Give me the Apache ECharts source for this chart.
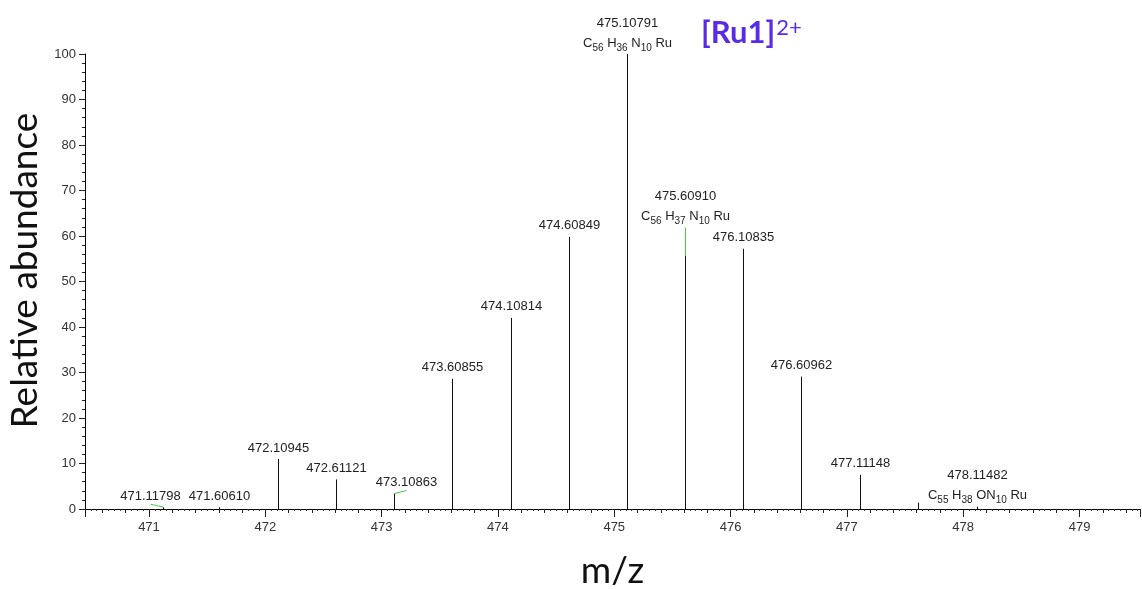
<!DOCTYPE html>
<html>
<head>
<meta charset="utf-8">
<script src="https://cdn.jsdelivr.net/npm/echarts@6/dist/echarts.min.js"></script>
<style>
  html, body { margin: 0; padding: 0; background: #fff; }
  #chart { width: 1142px; height: 589px; }
</style>
</head>
<body>
<div id="chart"></div>
<script>
// peak list
const peakMz = [471.11798, 471.60610, 472.10945, 472.61121, 473.10863, 473.60855, 474.10814,
  474.60849, 475.10791, 475.60910, 476.10835, 476.60962, 477.11148, 477.61, 478.11482]
const peakAbundance = [0.4, 0.4, 11.0, 6.5, 3.4, 28.6, 42.0, 59.8, 100, 55.7, 57.2, 29.1, 7.5, 1.4, 0.5]
const peakLabel = ['471.11798', '471.60610', '472.10945', '472.61121', '473.10863', '473.60855',
  '474.10814', '474.60849', '475.10791', '475.60910', '476.10835', '476.60962', '477.11148', '', '478.11482']
const peakFormula = ['', '', '', '', '', '', '', '',
  'C{s|56} H{s|36} N{s|10} Ru', 'C{s|56} H{s|37} N{s|10} Ru', '', '', '', '', 'C{s|55} H{s|38} ON{s|10} Ru']

// label nudges (px) for crowded labels, drawn with green leaders
const labelShift = { 0: [-13, 0], 4: [12, 0], 9: [0, -28] }

const chart = echarts.init(document.getElementById('chart'))

function renderPeak(params, api) {
  const i = params.dataIndex
  const base = api.coord([api.value(0), 0])
  const top = api.coord([api.value(0), api.value(1)])
  const px = Math.round(base[0]) + 0.5
  const children = [{
    type: 'line',
    shape: { x1: px, y1: base[1], x2: px, y2: top[1] },
    style: { stroke: '#111', lineWidth: 1 }
  }]
  const shift = labelShift[i] || [0, 0]
  if (shift[0] !== 0) {
    children.push({
      type: 'line',
      shape: { x1: px, y1: top[1], x2: px + shift[0], y2: top[1] - 3 },
      style: { stroke: '#4cc84c', lineWidth: 1 }
    })
  }
  if (shift[1] !== 0) {
    children.push({
      type: 'line',
      shape: { x1: px, y1: top[1], x2: px, y2: top[1] + shift[1] },
      style: { stroke: '#4cc84c', lineWidth: 1 }
    })
  }
  let text = peakLabel[i]
  if (peakFormula[i]) text += '\n' + peakFormula[i]
  if (text) {
    children.push({
      type: 'text',
      style: {
        text: text,
        x: px + shift[0],
        y: top[1] + shift[1] - 1,
        align: 'center',
        verticalAlign: 'bottom',
        fontFamily: 'Liberation Sans',
        fontSize: 13,
        lineHeight: 20,
        fill: '#222',
        rich: {
          s: { fontSize: 10, lineHeight: 18, verticalAlign: 'bottom', fill: '#222', fontFamily: 'Liberation Sans' }
        }
      }
    })
  }
  return { type: 'group', children: children }
}

const option = {
  animation: false,
  backgroundColor: '#fff',
  title: {
    text: '[Ru1]{sup|2+}',
    left: 696,
    top: 12,
    textStyle: {
      fontFamily: 'Lato',
      fontWeight: 'bold',
      fontSize: 31,
      color: '#5a2be6',
      rich: {
        sup: {
          fontFamily: 'Lato', fontWeight: 'normal', fontSize: 22, color: '#5a2be6',
          verticalAlign: 'top', lineHeight: 22, padding: [0, 0, 12, 1]
        }
      }
    }
  },
  grid: { left: 85, right: 2, top: 54, bottom: 80, outerBoundsMode: 'none', containLabel: false },
  xAxis: [
    {
      type: 'value',
      position: 'bottom',
      min: 470.45,
      max: 479.52,
      splitNumber: 9,
      minInterval: 1,
      maxInterval: 1,
      name: 'm/z',
      nameLocation: 'middle',
      nameGap: 44,
      nameTextStyle: { fontFamily: 'Lato', fontSize: 37, color: '#111' },
      axisLine: { lineStyle: { color: '#000', width: 1 } },
      axisTick: { length: 8, lineStyle: { color: '#222' } },
      minorTick: { show: true, splitNumber: 5, length: 4, lineStyle: { color: '#222' } },
      axisLabel: {
        showMinLabel: false,
        showMaxLabel: false,
        margin: 12,
        fontFamily: 'Liberation Sans',
        fontSize: 13,
        color: '#333'
      },
      splitLine: { show: false }
    },
    {
      type: 'value',
      position: 'bottom',
      min: 470.45,
      max: 479.52,
      splitNumber: 45,
      minInterval: 0.2,
      maxInterval: 0.2,
      axisLine: { show: false },
      axisTick: { show: false },
      axisLabel: { show: false },
      minorTick: { show: true, splitNumber: 4, length: 2, lineStyle: { color: '#333' } },
      splitLine: { show: false }
    }
  ],
  yAxis: {
    type: 'value',
    min: 0,
    max: 100,
    interval: 10,
    name: 'Relative abundance',
    nameLocation: 'middle',
    nameGap: 40,
    nameTextStyle: { fontFamily: 'Lato', fontSize: 37, color: '#111', padding: [0, 0, 0, 22] },
    axisLine: { show: true, lineStyle: { color: '#000', width: 1 } },
    axisTick: { show: true, length: 6, lineStyle: { color: '#222' } },
    minorTick: { show: true, splitNumber: 5, length: 3, lineStyle: { color: '#222' } },
    axisLabel: { margin: 9, fontFamily: 'Liberation Sans', fontSize: 13, color: '#333' },
    splitLine: { show: false }
  },
  series: [{
    type: 'custom',
    xAxisIndex: 0,
    yAxisIndex: 0,
    clip: false,
    renderItem: renderPeak,
    data: peakMz.map((m, i) => [m, peakAbundance[i]])
  }]
}

chart.setOption(option)
</script>
</body>
</html>
